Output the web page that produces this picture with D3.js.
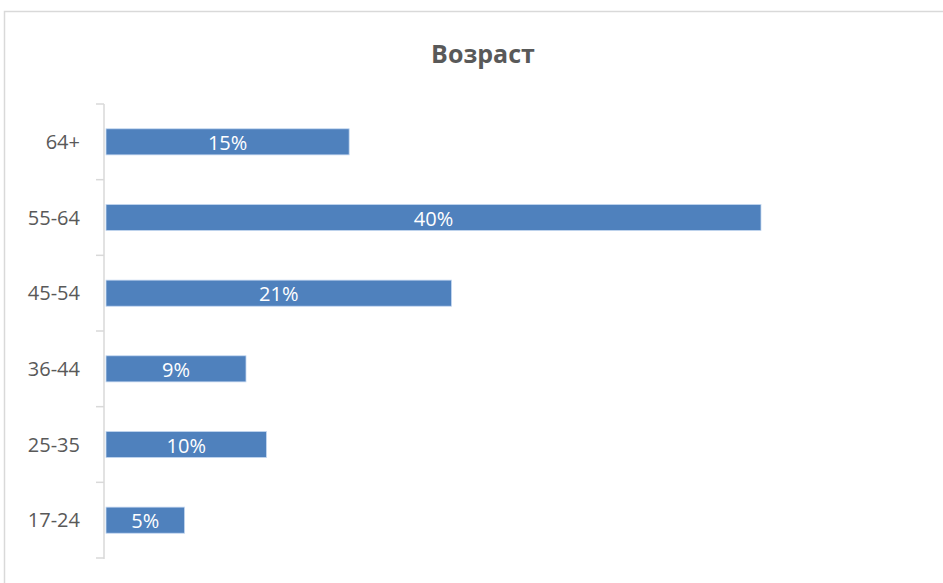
<!DOCTYPE html>
<html>
<head>
<meta charset="utf-8">
<script src="https://cdn.jsdelivr.net/npm/d3@7"></script>
<style>
  body { margin: 0; background: #fff; }
  svg { display: block; }
</style>
</head>
<body>
<script>
// age groups, top to bottom as in the chart
var categories = ["64+", "55-64", "45-54", "36-44", "25-35", "17-24"];
var values = [14.85, 40, 21.1, 8.55, 9.8, 4.8];

var width = 943,
  height = 583;

var svg = d3.select("body")
  .append("svg")
  .attr("width", width)
  .attr("height", height);

// chart frame
svg.append("rect")
  .attr("x", 4.5)
  .attr("y", 11.5)
  .attr("width", 960)
  .attr("height", 600)
  .attr("fill", "none")
  .attr("stroke", "#d9d9d9")
  .attr("stroke-width", 1.5);

svg.append("text")
  .attr("x", 483)
  .attr("y", 63)
  .attr("text-anchor", "middle")
  .style("font-family", "'Open Sans', sans-serif")
  .style("font-weight", "bold")
  .style("font-size", "25px")
  .style("fill", "#595959")
  .text("Возраст");

var x = d3.scaleLinear()
  .domain([0, 45])
  .range([106, 106 + 45 * 16.375]);

var y = d3.scaleBand()
  .domain(categories)
  .range([104, 558])
  .paddingInner(0.655)
  .paddingOuter(0.3275);

// axis line + ticks at category boundaries
var yAxisG = svg.append("g");
yAxisG.append("line")
  .attr("x1", 104).attr("x2", 104)
  .attr("y1", 104).attr("y2", 559)
  .attr("stroke", "#d9d9d9")
  .attr("stroke-width", 1.5);

var bounds = d3.range(categories.length + 1).map(function (i) {
  return 104 + i * (558 - 104) / categories.length;
});
yAxisG.selectAll(".tick")
  .data(bounds)
  .enter()
  .append("line")
  .attr("x1", 96).attr("x2", 104)
  .attr("y1", d => d).attr("y2", d => d)
  .attr("stroke", "#d9d9d9")
  .attr("stroke-width", 1.5);

yAxisG.selectAll(".lbl")
  .data(categories)
  .enter()
  .append("text")
  .attr("x", 80)
  .attr("y", d => y(d) + y.bandwidth() / 2)
  .attr("dy", "0.36em")
  .attr("text-anchor", "end")
  .style("font-family", "'Open Sans', sans-serif")
  .style("font-size", "20px")
  .style("fill", "#595959")
  .text(d => d);

var bars = svg.selectAll(".bar")
  .data(values)
  .enter()
  .append("g");

bars.append("rect")
  .attr("x", x(0))
  .attr("y", (d, i) => y(categories[i]))
  .attr("width", d => x(d) - x(0))
  .attr("height", y.bandwidth())
  .attr("fill", "#4f81bd")
  .attr("stroke", "#c6d9f1")
  .attr("stroke-width", 0.8);

bars.append("text")
  .attr("x", d => (x(0) + x(d)) / 2)
  .attr("y", (d, i) => y(categories[i]) + y.bandwidth() / 2)
  .attr("dy", "0.4em")
  .attr("text-anchor", "middle")
  .style("font-family", "'Open Sans', sans-serif")
  .style("font-size", "20px")
  .style("fill", "#fff")
  .text(d => Math.round(d) + "%");
</script>
</body>
</html>
